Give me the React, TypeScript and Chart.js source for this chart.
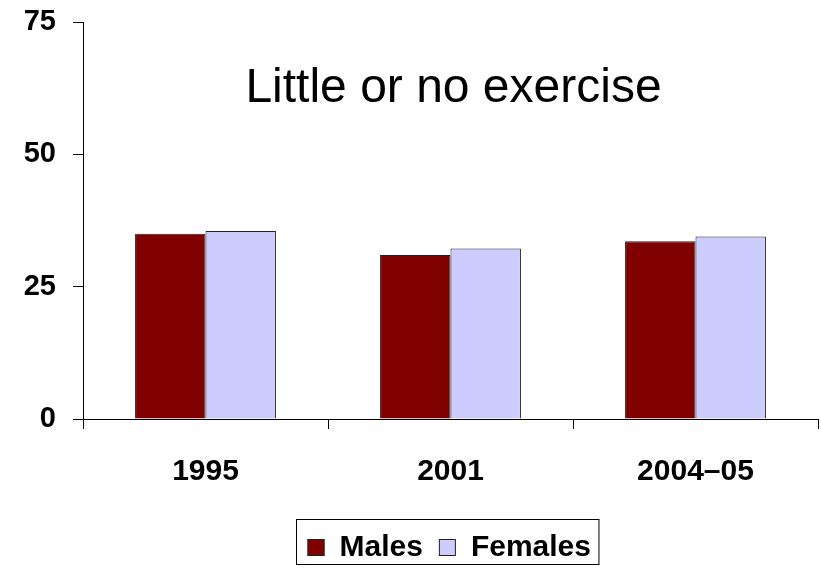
import React, { useEffect, useRef } from "react";
import { Chart, registerables } from "chart.js";
Chart.register(...registerables);

const categories = ["1995", "2001", "2004–05"];
const males = [35.0, 31.0, 33.6];
const females = [35.5, 32.2, 34.5];
const yTickValues = [0, 25, 50, 75];
const seriesNames = ["Males", "Females"];
const seriesColors = ["#800000", "#CCCCFF"];
const chartTitle = "Little or no exercise";

const FONT = "'Liberation Sans', Arial, sans-serif";

export default function App() {
  const ref = useRef<HTMLCanvasElement>(null);
  useEffect(() => {
    document.body.style.margin = "0";
    const canvas = ref.current;
    if (!canvas) return;

    const titlePlugin = {
      id: "titleInside",
      afterDatasetsDraw(chart: any) {
        const { ctx, chartArea } = chart;
        ctx.save();
        ctx.font = `48px ${FONT}`;
        ctx.fillStyle = "#000";
        ctx.textAlign = "center";
        ctx.textBaseline = "alphabetic";
        ctx.fillText(chartTitle, (chartArea.left + chartArea.right) / 2 + 3, chartArea.top + 80);
        ctx.restore();
      },
    };

    const legendPlugin = {
      id: "boxLegend",
      afterDraw(chart: any) {
        const { ctx, chartArea } = chart;
        const xScale = chart.scales.x;
        ctx.save();
        ctx.font = `bold 30px ${FONT}`;
        const box = 17, gap = 15, between = 16, innerL = 11, innerR = 8;
        const items = chart.data.datasets.map((ds: any) => ({
          label: ds.label,
          bg: ds.backgroundColor,
          bc: ds.borderColor,
          w: ctx.measureText(ds.label).width,
        }));
        let total = innerL + innerR;
        items.forEach((it: any, i: number) => {
          total += box + gap + it.w + (i > 0 ? between : 0);
        });
        const center = (chartArea.left + chartArea.right) / 2 - 3;
        const left = Math.round(center - total / 2) + 0.5;
        const top = Math.round(xScale.bottom + 2) + 0.5;
        const height = 45;
        ctx.strokeStyle = "#000";
        ctx.lineWidth = 1;
        ctx.strokeRect(left, top, total, height);
        const midY = top + 28;
        let x = left + innerL;
        items.forEach((it: any, i: number) => {
          if (i > 0) x += between;
          ctx.fillStyle = it.bg;
          ctx.fillRect(x, midY - box / 2, box, box);
          ctx.strokeStyle = it.bc;
          ctx.strokeRect(x + 0.5, midY - box / 2 + 0.5, box - 1, box - 1);
          x += box + gap;
          ctx.fillStyle = "#000";
          ctx.textAlign = "left";
          ctx.textBaseline = "middle";
          ctx.fillText(it.label, x, midY);
          x += it.w;
        });
        ctx.restore();
      },
    };

    const chart = new Chart(canvas, {
      type: "bar",
      data: {
        labels: categories,
        datasets: [
          {
            label: seriesNames[0],
            data: males,
            backgroundColor: seriesColors[0],
            borderColor: "#222",
            borderWidth: 1,
            barPercentage: 1,
            categoryPercentage: 0.575,
          },
          {
            label: seriesNames[1],
            data: females,
            backgroundColor: seriesColors[1],
            borderColor: "#222",
            borderWidth: 1,
            barPercentage: 1,
            categoryPercentage: 0.575,
          },
        ],
      },
      options: {
        responsive: false,
        animation: false,
        layout: { padding: { top: 22, right: 3, bottom: 55, left: 0 } },
        plugins: {
          legend: { display: false },
          title: { display: false },
          tooltip: { enabled: false },
        },
        scales: {
          x: {
            grid: {
              display: true,
              drawOnChartArea: false,
              drawTicks: true,
              tickLength: 10,
              color: "#000",
              offset: true,
            },
            border: { display: true, color: "#000", width: 1 },
            ticks: {
              color: "#000",
              font: { family: FONT, size: 30, weight: "bold" },
              padding: 25,
              maxRotation: 0,
            },
            afterFit(scale: any) {
              scale.height = 98;
              scale.paddingLeft = 0;
              scale.paddingRight = 0;
            },
          },
          y: {
            min: 0,
            max: 75,
            grid: {
              display: true,
              drawOnChartArea: false,
              drawTicks: true,
              tickLength: 10,
              color: "#000",
            },
            border: { display: true, color: "#000", width: 1 },
            ticks: {
              stepSize: 25,
              color: "#000",
              font: { family: FONT, size: 29, weight: "bold" },
              padding: 17,
              callback: (v: any) => (yTickValues.includes(Number(v)) ? String(v) : ""),
            },
            afterFit(scale: any) {
              scale.width = 83;
              scale.paddingTop = 0;
              scale.paddingBottom = 0;
            },
          },
        },
      },
      plugins: [titlePlugin, legendPlugin],
    });
    return () => chart.destroy();
  }, []);

  return (
    <div style={{ position: "fixed", left: 0, top: 0, width: 821, height: 572, background: "#fff" }}>
      <canvas ref={ref} width={821} height={572} />
    </div>
  );
}
